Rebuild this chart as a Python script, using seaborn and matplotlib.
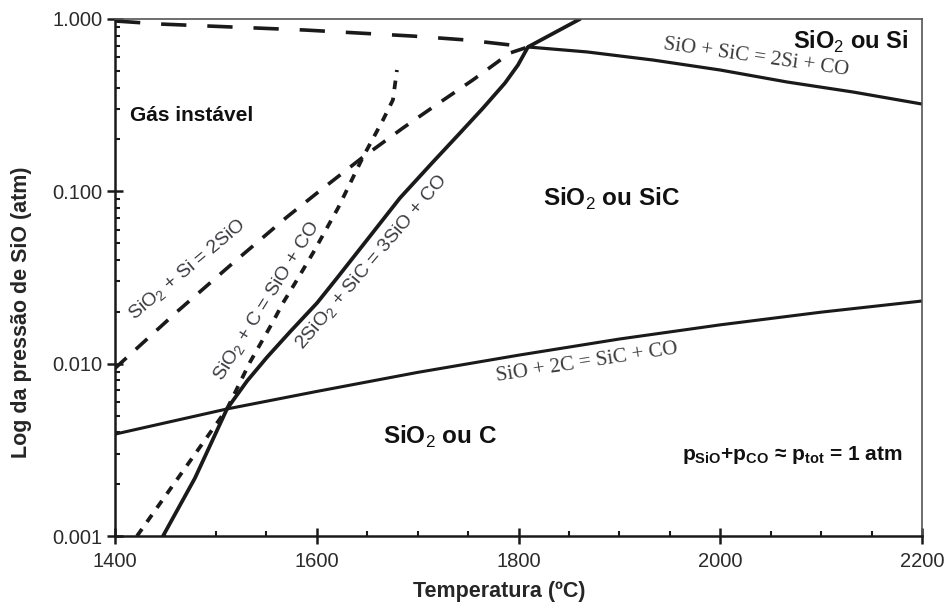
import numpy as np
import pandas as pd
import seaborn as sns
import matplotlib.pyplot as plt
from matplotlib.ticker import MultipleLocator, LogLocator, NullFormatter

# Boundary lines (temperature in C, SiO pressure in atm)
t_sio_2c = [1400, 1511, 1600, 1700, 1800, 1900, 2000, 2100, 2200]
p_sio_2c = [0.0039, 0.00546, 0.0069, 0.0089, 0.0112, 0.0139, 0.0168, 0.0199, 0.0231]

t_sio_sic = [1809.4, 1867.9, 1933.3, 1999.8, 2066.2, 2131.6, 2200]
p_sio_sic = [0.688, 0.644, 0.578, 0.506, 0.431, 0.377, 0.321]

t_2sio2_sic = [1447.6, 1479.3, 1511, 1530.9, 1550.7, 1573.5, 1600.3, 1620.1, 1649.8,
               1682.5, 1715.2, 1742.0, 1764.8, 1786.6, 1799.5, 1809.4, 1861]
p_2sio2_sic = [0.001, 0.00217, 0.00546, 0.00793, 0.0109, 0.0153, 0.0225, 0.0314, 0.0522,
               0.0915, 0.148, 0.218, 0.304, 0.425, 0.541, 0.688, 1.0]

t_sio2_c = [1421.8, 1511, 1533.8, 1556.6, 1566.5, 1580.4, 1596.3, 1621.1, 1645.8, 1665.6,
            1675.5, 1679.5]
p_sio2_c = [0.001, 0.00546, 0.0102, 0.0175, 0.0225, 0.0306, 0.0439, 0.080, 0.158, 0.259,
            0.339, 0.506]

t_sio2_si = [1400, 1461.4, 1517, 1570.5, 1600.2, 1645.8, 1685.4, 1715.2, 1754.8, 1791.5, 1809.4]
p_sio2_si = [0.0094, 0.020, 0.0384, 0.071, 0.0977, 0.158, 0.233, 0.308, 0.443, 0.635, 0.688]

t_top = [1400, 1444.6, 1588.3, 1695.3, 1748.9, 1809.4]
p_top = [0.974, 0.935, 0.863, 0.796, 0.755, 0.688]

xticks = [1400, 1600, 1800, 2000, 2200]
yticks = [0.001, 0.01, 0.1, 1.0]
yticklabels = ["0.001", "0.010", "0.100", "1.000"]

sns.set_style("ticks")
plt.rcParams['font.family'] = ['Liberation Sans', 'DejaVu Sans']
plt.rcParams['mathtext.fontset'] = 'custom'
plt.rcParams['mathtext.rm'] = 'Liberation Sans'
plt.rcParams['mathtext.bf'] = 'Liberation Sans:bold'

fig = plt.figure(figsize=(9.45, 6.05), dpi=100)
ax = fig.add_axes([115 / 945, 1 - 536 / 605, 807 / 945, 517 / 605])

ink = '#1a1a1a'
lines = [
    (t_sio_2c, p_sio_2c, '-', 2.2),
    (t_sio_sic, p_sio_sic, '-', 2.3),
    (t_2sio2_sic, p_2sio2_sic, '-', 2.7),
    (t_sio2_c, p_sio2_c, (0, (2.3, 2.3)), 2.7),
    (t_sio2_si, p_sio2_si, (0, (4.3, 3.5)), 2.6),
    (t_top, p_top, (0, (7.0, 5.8)), 2.6),
]
for t, p, ls, lw in lines:
    df = pd.DataFrame({'T': t, 'p': p})
    sns.lineplot(data=df, x='T', y='p', ax=ax, color=ink, linestyle=ls,
                 linewidth=lw, estimator=None, sort=False)

ax.set_yscale('log')
ax.set_xlim(1400, 2200)
ax.set_ylim(0.001, 1.0)
ax.set_xticks(xticks)
ax.set_xticklabels([str(v) for v in xticks])
ax.xaxis.set_minor_locator(MultipleLocator(50))
ax.set_yticks(yticks)
ax.set_yticklabels(yticklabels)
ax.yaxis.set_minor_locator(LogLocator(base=10, subs=np.arange(2, 10)))
ax.yaxis.set_minor_formatter(NullFormatter())

ax.tick_params(which='major', direction='inout', length=11.5, width=1.8,
               labelsize=14.5, labelcolor='#2b2b2b', color=ink, pad=3)
ax.tick_params(which='minor', direction='in', length=3.8, width=1.5, color=ink)
ax.tick_params(axis='x', which='major', pad=6)
for side in ['left', 'bottom']:
    ax.spines[side].set_linewidth(1.8)
    ax.spines[side].set_color(ink)
for side in ['top', 'right']:
    ax.spines[side].set_linewidth(1.2)
    ax.spines[side].set_color('#555555')

ax.set_xlabel('Temperatura (ºC)', fontsize=15.5, fontweight='bold')
ax.set_ylabel('Log da pressão de SiO (atm)', fontsize=15.5, fontweight='bold')
ax.xaxis.set_label_coords(0.476, -0.088)
ax.yaxis.set_label_coords(-0.103, 0.433)

# region labels
ax.text(1415, 0.277, 'Gás instável', fontsize=15, fontweight='bold',
        ha='left', va='center', color='#111111')
ax.text(2129, 0.735, r'SiO$_2$ ou Si', fontsize=17, ha='center', va='center',
        color='#111111', fontweight='semibold')
ax.text(1892, 0.0902, r'SiO$_2$ ou SiC', fontsize=17.5, ha='center', va='center',
        color='#111111', fontweight='semibold')
ax.text(1722, 0.00375, r'SiO$_2$ ou C', fontsize=17.5, ha='center', va='center',
        color='#111111', fontweight='semibold')
ax.text(2071, 0.00295,
        r'$\mathbf{p_{SiO}}$+$\mathbf{p_{CO}}$ ≈ $\mathbf{p_{tot}}$ = 1 atm',
        fontsize=15, fontweight='bold', ha='center', va='center', color='#111111')

# reaction labels
serif = ['Liberation Serif', 'DejaVu Serif']
rx = dict(fontsize=15, family=serif, color='#3a3a3a', ha='center', va='center',
          rotation_mode='anchor')
ax.text(2036, 0.594, 'SiO + SiC = 2Si + CO', rotation=-8, **rx)
ax.text(1868, 0.0102, 'SiO + 2C = SiC + CO', rotation=8.7, **rx)
sx = dict(fontsize=14, color='#3c3c44', ha='center', va='center', rotation_mode='anchor')
ax.text(1472, 0.0349, r'SiO$_2$ + Si = 2SiO', rotation=40, **sx)
ax.text(1551, 0.0231, r'SiO$_2$ + C = SiO + CO', rotation=58, **sx)
ax.text(1655, 0.0384, r'2SiO$_2$ + SiC = 3SiO + CO', rotation=49.5, **sx)

fig.savefig('out.png', dpi=100)
